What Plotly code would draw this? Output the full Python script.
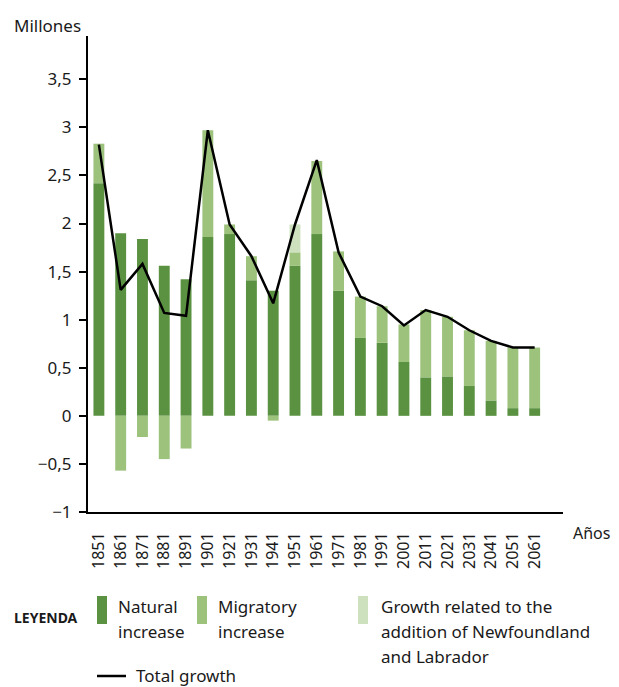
import plotly.graph_objects as go

years = ["1851", "1861", "1871", "1881", "1891", "1901", "1921", "1931", "1941", "1951", "1961",
         "1971", "1981", "1991", "2001", "2011", "2021", "2031", "2041", "2051", "2061"]
natural = [2.42, 1.90, 1.84, 1.56, 1.42, 1.86, 1.89, 1.41, 1.30, 1.56, 1.89,
           1.30, 0.81, 0.76, 0.56, 0.40, 0.41, 0.31, 0.16, 0.08, 0.08]
migratory = [0.41, -0.57, -0.22, -0.45, -0.34, 1.11, 0.10, 0.25, -0.05, 0.14, 0.76,
             0.41, 0.43, 0.38, 0.39, 0.70, 0.62, 0.58, 0.62, 0.63, 0.63]
newfoundland = [0, 0, 0, 0, 0, 0, 0, 0, 0, 0.29, 0,
                0, 0, 0, 0, 0, 0, 0, 0, 0, 0]
total = [2.82, 1.31, 1.58, 1.07, 1.04, 2.97, 1.99, 1.66, 1.17, 1.99, 2.66,
         1.70, 1.24, 1.14, 0.94, 1.10, 1.03, 0.89, 0.78, 0.71, 0.71]
y_ticks = [-1, -0.5, 0, 0.5, 1, 1.5, 2, 2.5, 3, 3.5]
y_tick_text = ["−1", "−0,5", "0", "0,5", "1", "1,5", "2", "2,5", "3", "3,5"]

DARK = "#5b9242"
MID = "#9cc27c"
LIGHT = "#cde1bf"
FONT = "Noto Sans"
TXT = "#1a1a1a"

# the page adds an 8px body margin, so work in page pixels and shift
OFF = 8
FW, FH = 619 - OFF, 687 - OFF
L, T, W, H = 88 - OFF, 36 - OFF, 475, 476


def px(x):
    return (x - OFF - L) / W


def py(y):
    return (T + H - (y - OFF)) / H


fig = go.Figure()
fig.add_trace(go.Bar(x=years, y=natural, name="Natural increase", marker_color=DARK,
                     marker_line_width=0, width=0.5))
fig.add_trace(go.Bar(x=years, y=migratory, name="Migratory increase", marker_color=MID,
                     marker_line_width=0, width=0.5))
fig.add_trace(go.Bar(x=years, y=newfoundland, name="Newfoundland and Labrador", marker_color=LIGHT,
                     marker_line_width=0, width=0.5))
fig.add_trace(go.Scatter(x=years, y=total, name="Total growth", mode="lines",
                         line=dict(color="black", width=2.5)))

fig.update_xaxes(type="category", range=[-0.5, 21.3], showline=True, linecolor="black", linewidth=2,
                 ticks="", tickangle=-90, ticklabelstandoff=12, showgrid=False,
                 tickfont=dict(family=FONT, size=16, color=TXT))
fig.update_yaxes(range=[-1, 3.95], showline=True, linecolor="black", linewidth=2,
                 ticks="outside", ticklen=7, tickwidth=2, tickcolor="black",
                 tickvals=y_ticks, ticktext=y_tick_text, ticklabelstandoff=4,
                 showgrid=False, zeroline=False,
                 tickfont=dict(family=FONT, size=17, color=TXT))

ann = [
    ("Millones", 12, 25, 17, "left"),
    ("Años", 612, 533, 16, "right"),
    ("<b>LEYENDA</b>", 12, 617, 14, "left"),
    ("Natural", 116, 606, 17, "left"),
    ("increase", 116, 631, 17, "left"),
    ("Migratory", 216, 606, 17, "left"),
    ("increase", 216, 631, 17, "left"),
    ("Growth related to the", 379, 606, 17, "left"),
    ("addition of Newfoundland", 379, 631, 17, "left"),
    ("and Labrador", 379, 656, 17, "left"),
    ("Total growth", 134, 675, 17, "left"),
]
for text, x, y, size, anchor in ann:
    fig.add_annotation(text=text, x=px(x), y=py(y), xref="paper", yref="paper",
                       xanchor=anchor, yanchor="middle", showarrow=False,
                       font=dict(family=FONT, size=size, color=TXT))

for x0, color in [(97, DARK), (197, MID), (358, LIGHT)]:
    fig.add_shape(type="rect", xref="paper", yref="paper", x0=px(x0), x1=px(x0 + 10),
                  y0=py(596), y1=py(624), fillcolor=color, line_width=0)
fig.add_shape(type="line", xref="paper", yref="paper", x0=px(97), x1=px(126),
              y0=py(676), y1=py(676), line=dict(color="black", width=2.5))

fig.update_layout(
    width=FW, height=FH,
    margin=dict(l=L, r=FW - L - W, t=T, b=FH - T - H),
    barmode="relative", bargap=0.5, showlegend=False,
    plot_bgcolor="white", paper_bgcolor="white",
    font=dict(family=FONT, color=TXT),
)

fig.write_html("out.html")
